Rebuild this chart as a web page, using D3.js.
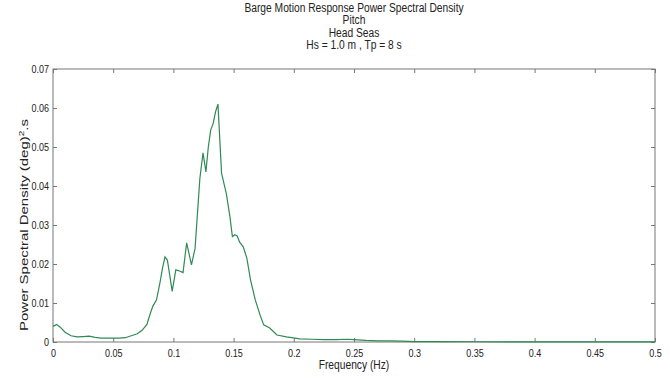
<!DOCTYPE html>
<html><head><meta charset="utf-8">
<script src="https://cdn.jsdelivr.net/npm/d3@7"></script>
<style>
html,body{margin:0;padding:0;background:#fff;}
svg text{font-family:"Liberation Sans",Arial,sans-serif;fill:#222;}
</style></head>
<body><svg id="c" width="670" height="379"></svg>
<script>
const titleLines = ["Barge Motion Response Power Spectral Density", "Pitch", "Head Seas", "Hs = 1.0 m , Tp = 8 s"];
const xLabel = "Frequency (Hz)";
const xTicks = [0, 0.05, 0.1, 0.15, 0.2, 0.25, 0.3, 0.35, 0.4, 0.45, 0.5];
const xTickLabels = ["0", "0.05", "0.1", "0.15", "0.2", "0.25", "0.3", "0.35", "0.4", "0.45", "0.5"];
const yTicks = [0, 0.01, 0.02, 0.03, 0.04, 0.05, 0.06, 0.07];
const yTickLabels = ["0", "0.01", "0.02", "0.03", "0.04", "0.05", "0.06", "0.07"];
const freq = [0.000,0.003,0.006,0.010,0.015,0.020,0.025,0.030,0.035,0.040,0.045,0.050,0.055,0.060,0.065,0.070,0.074,0.078,0.081,0.083,0.086,0.089,0.091,0.093,0.095,0.097,0.099,0.102,0.105,0.108,0.111,0.115,0.118,0.120,0.122,0.1246,0.127,0.129,0.131,0.133,0.135,0.137,0.140,0.144,0.147,0.149,0.151,0.153,0.155,0.158,0.161,0.164,0.168,0.172,0.175,0.180,0.186,0.194,0.205,0.215,0.225,0.235,0.245,0.250,0.260,0.270,0.280,0.290,0.300,0.320,0.350,0.400,0.450,0.500];
const psd = [0.0040,0.0045,0.0038,0.0025,0.0016,0.0013,0.0014,0.0015,0.0012,0.0010,0.0010,0.0010,0.0010,0.0011,0.0016,0.0021,0.0030,0.0045,0.0075,0.0092,0.0108,0.0155,0.0190,0.0218,0.0210,0.0170,0.0130,0.0185,0.0182,0.0178,0.0254,0.0198,0.0240,0.0330,0.0420,0.0485,0.0436,0.0500,0.0544,0.0560,0.0590,0.0610,0.0433,0.0380,0.0320,0.0270,0.0275,0.0272,0.0256,0.0244,0.0215,0.0160,0.0108,0.0069,0.0044,0.0036,0.0018,0.0013,0.0008,0.0007,0.0006,0.0006,0.0007,0.0006,0.0004,0.0003,0.0003,0.0002,0.0001,0.00008,0.00006,0.00005,0.00005,0.00005];

const svg = d3.select("#c");
const L = 53, R = 655, T = 69, B = 342;
const x = d3.scaleLinear().domain([0, 0.5]).range([L, R]);
const y = d3.scaleLinear().domain([0, 0.07]).range([B, T]);
const axisColor = "#777";
const sx = 0.82;

svg.append("rect").attr("x", L).attr("y", T).attr("width", R - L).attr("height", B - T)
  .attr("fill", "none").attr("stroke", axisColor).attr("stroke-width", 1);

const fs = "11px";
const gx = svg.append("g").attr("transform", `translate(0,${B})`)
  .call(d3.axisBottom(x).tickValues(xTicks).tickFormat((d, i) => xTickLabels[i]).tickSizeInner(-4).tickSizeOuter(0).tickPadding(7));
gx.select(".domain").remove();
gx.selectAll("line").attr("stroke", axisColor);
gx.selectAll("text").style("font-size", fs).attr("fill", "#222").attr("transform", `scale(${sx},1)`);
const gxt = svg.append("g").attr("transform", `translate(0,${T})`)
  .call(d3.axisTop(x).tickValues(xTicks).tickFormat("").tickSizeInner(-4).tickSizeOuter(0));
gxt.select(".domain").remove();
gxt.selectAll("line").attr("stroke", axisColor);
const gy = svg.append("g").attr("transform", `translate(${L},0)`)
  .call(d3.axisLeft(y).tickValues(yTicks).tickFormat((d, i) => yTickLabels[i]).tickSizeInner(-4).tickSizeOuter(0).tickPadding(4));
gy.select(".domain").remove();
gy.selectAll("line").attr("stroke", axisColor);
gy.selectAll("text").style("font-size", fs).attr("fill", "#222")
  .attr("x", -4 / sx).attr("transform", `scale(${sx},1)`);
const gyr = svg.append("g").attr("transform", `translate(${R},0)`)
  .call(d3.axisRight(y).tickValues(yTicks).tickFormat("").tickSizeInner(-4).tickSizeOuter(0));
gyr.select(".domain").remove();
gyr.selectAll("line").attr("stroke", axisColor);

const data = freq.map((f, i) => [f, psd[i]]);
svg.append("path").datum(data)
  .attr("fill", "none").attr("stroke", "#2f8a55").attr("stroke-width", 1.2)
  .attr("d", d3.line().x(d => x(d[0])).y(d => y(d[1])));

const cx = (L + R) / 2;
titleLines.forEach((t, i) => {
  svg.append("text").attr("transform", `translate(${cx},${12 + i * 12.3}) scale(${sx},1)`).attr("text-anchor", "middle")
    .style("font-size", "12.5px").text(t);
});
svg.append("text").attr("transform", `translate(${cx},369) scale(${sx},1)`).attr("text-anchor", "middle").style("font-size", "12.5px").text(xLabel);
const yl = svg.append("text").attr("transform", `translate(28,225) rotate(-90) scale(1,0.72)`)
  .attr("text-anchor", "middle").style("font-size", "15px");
yl.append("tspan").text("Power Spectral Density (deg)");
yl.append("tspan").attr("dy", -6).style("font-size", "10px").text("2");
yl.append("tspan").attr("dy", 6).text(".s");
</script></body></html>
